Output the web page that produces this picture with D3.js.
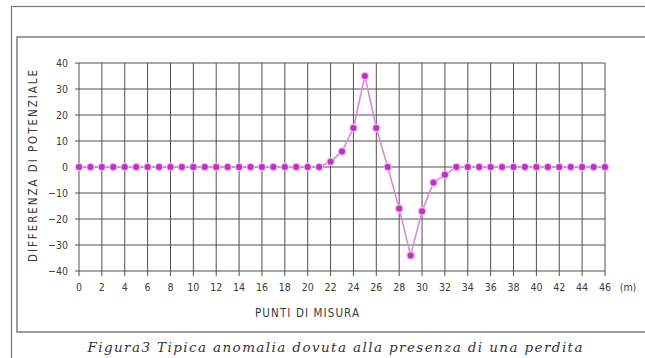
<!DOCTYPE html>
<html>
<head>
<meta charset="utf-8">
<script src="https://cdn.jsdelivr.net/npm/d3@7"></script>
<style>
  body { margin: 0; background: #fff; }
  svg { display: block; }
</style>
</head>
<body>
<svg width="645" height="358"></svg>
<script>
const punti = d3.range(0, 47);
const valori = [
  0, 0, 0, 0, 0, 0, 0, 0, 0, 0,
  0, 0, 0, 0, 0, 0, 0, 0, 0, 0,
  0, 0, 2, 6, 15, 35, 15, 0, -16, -34,
  -17, -6, -3, 0, 0, 0, 0, 0, 0, 0,
  0, 0, 0, 0, 0, 0, 0
];
const xTicks = d3.range(0, 47, 2);
const yTicks = [-40, -30, -20, -10, 0, 10, 20, 30, 40];

const data = punti.map((p, i) => ({ x: p, y: valori[i] }));

const svg = d3.select("svg");
const gridCol = "#505050";
const textCol = "#3a3a3a";
const narrow = "'DejaVu Sans Condensed', 'Liberation Sans Narrow', sans-serif";

// frames
svg.append("rect")
  .attr("x", 11.5).attr("y", 6.5).attr("width", 640).attr("height", 360)
  .attr("fill", "none").attr("stroke", "#777").attr("stroke-width", 1.2);
svg.append("rect")
  .attr("x", 17).attr("y", 37).attr("width", 640).attr("height", 295)
  .attr("fill", "none").attr("stroke", "#888").attr("stroke-width", 1.6);

const xScale = d3.scaleLinear().domain([0, 46]).range([79, 605]);
const yScale = d3.scaleLinear().domain([-40, 40]).range([271, 63]);

const g = svg.append("g");

// vertical grid (with tick stubs below)
g.selectAll(".vgrid")
  .data(xTicks)
  .enter().append("line")
  .attr("class", "vgrid")
  .attr("x1", d => xScale(d)).attr("x2", d => xScale(d))
  .attr("y1", yScale(40)).attr("y2", yScale(-40) + 5)
  .attr("stroke", gridCol).attr("stroke-width", 1);

// horizontal grid (with tick stubs left)
g.selectAll(".hgrid")
  .data(yTicks)
  .enter().append("line")
  .attr("class", "hgrid")
  .attr("x1", xScale(0) - 4).attr("x2", xScale(46))
  .attr("y1", d => yScale(d)).attr("y2", d => yScale(d))
  .attr("stroke", gridCol).attr("stroke-width", 1);

// x tick labels
g.selectAll(".xlab")
  .data(xTicks)
  .enter().append("text")
  .attr("x", d => xScale(d))
  .attr("y", 291)
  .attr("text-anchor", "middle")
  .attr("font-family", narrow)
  .attr("font-size", 10.5)
  .attr("fill", textCol)
  .text(d => d);

svg.append("text")
  .attr("x", 628).attr("y", 291)
  .attr("text-anchor", "middle")
  .attr("font-family", narrow)
  .attr("font-size", 10.5)
  .attr("fill", textCol)
  .text("(m)");

// y tick labels
g.selectAll(".ylab")
  .data(yTicks)
  .enter().append("text")
  .attr("x", 68)
  .attr("y", d => yScale(d) + 3.5)
  .attr("text-anchor", "end")
  .attr("font-family", narrow)
  .attr("font-size", 10.5)
  .attr("fill", textCol)
  .text(d => d < 0 ? "\u2212" + Math.abs(d) : d);

// axis titles
svg.append("text")
  .attr("transform", "translate(37,166) rotate(-90)")
  .attr("text-anchor", "middle")
  .attr("font-family", narrow)
  .attr("font-size", 11.5)
  .attr("fill", textCol)
  .attr("textLength", 192)
  .attr("lengthAdjust", "spacing")
  .text("DIFFERENZA  DI  POTENZIALE");

svg.append("text")
  .attr("x", 307).attr("y", 317)
  .attr("text-anchor", "middle")
  .attr("font-family", narrow)
  .attr("font-size", 11.5)
  .attr("fill", textCol)
  .attr("textLength", 104)
  .attr("lengthAdjust", "spacing")
  .text("PUNTI  DI  MISURA");

// caption
svg.append("text")
  .attr("x", 335).attr("y", 352)
  .attr("text-anchor", "middle")
  .attr("font-family", "'DejaVu Serif', 'Liberation Serif', serif")
  .attr("font-style", "italic")
  .attr("font-size", 13.5)
  .attr("fill", "#333")
  .attr("textLength", 495)
  .attr("lengthAdjust", "spacing")
  .text("Figura3  Tipica  anomalia  dovuta  alla  presenza  di  una  perdita");

// series line
const line = d3.line()
  .x(d => xScale(d.x))
  .y(d => yScale(d.y));

g.append("path")
  .datum(data)
  .attr("fill", "none")
  .attr("stroke", "#d98ad9")
  .attr("stroke-width", 1.6)
  .attr("d", line);

// markers
g.selectAll(".halo")
  .data(data)
  .enter().append("circle")
  .attr("cx", d => xScale(d.x))
  .attr("cy", d => yScale(d.y))
  .attr("r", 4.3)
  .attr("fill", "#f0b8f0");

g.selectAll(".dot")
  .data(data)
  .enter().append("circle")
  .attr("class", "dot")
  .attr("cx", d => xScale(d.x))
  .attr("cy", d => yScale(d.y))
  .attr("r", 3)
  .attr("fill", "#c22ec6");
</script>
</body>
</html>
